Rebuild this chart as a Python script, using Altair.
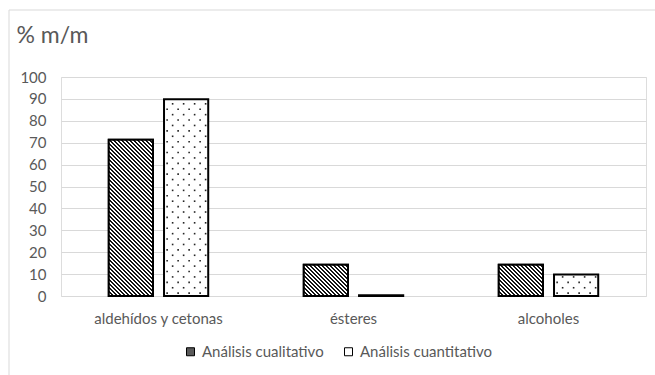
import altair as alt
import pandas as pd

# --- data -------------------------------------------------------------------
categories = ["aldehídos y cetonas", "ésteres", "alcoholes"]
series = ["Análisis cualitativo", "Análisis cuantitativo"]
cualitativo = [71.4, 14.3, 14.3]
cuantitativo = [89.8, 0.3, 9.8]
y_ticks = [0, 10, 20, 30, 40, 50, 60, 70, 80, 90, 100]

# --- layout -----------------------------------------------------------------
W, H = 585, 219
PAD = {"left": 61, "top": 77, "right": 9, "bottom": 79}
PX_PER_UNIT = H / 100.0
X_PAD_INNER, X_PAD_OUTER = 0.49, 0.245
OFF_PAD_INNER = 0.2
STEP = W / (len(categories) - X_PAD_INNER + 2 * X_PAD_OUTER)
BAND = STEP * (1 - X_PAD_INNER)
SUB_STEP = BAND / (len(series) - OFF_PAD_INNER)
BAR_W = SUB_STEP * (1 - OFF_PAD_INNER)

TEXT = "#595959"
GRID = "#d9d9d9"
FONT = "Lato"

rows = []
for c, a, b in zip(categories, cualitativo, cuantitativo):
    rows.append({"categoria": c, "serie": series[0], "valor": a})
    rows.append({"categoria": c, "serie": series[1], "valor": b})
df = pd.DataFrame(rows)

x_enc = alt.X(
    "categoria:N",
    sort=categories,
    scale=alt.Scale(domain=categories, paddingInner=X_PAD_INNER, paddingOuter=X_PAD_OUTER),
    axis=alt.Axis(title=None, labelAngle=0, labelPadding=15, ticks=False, tickSize=0,
                  domain=False, labelFontSize=15, labelColor=TEXT, labelFont=FONT),
)
xoff_enc = alt.XOffset(
    "serie:N", sort=series,
    scale=alt.Scale(domain=series, paddingInner=OFF_PAD_INNER, paddingOuter=0),
)
y_enc = alt.Y(
    "valor:Q",
    scale=alt.Scale(domain=[0, 100], nice=False),
    axis=alt.Axis(values=y_ticks, title="% m/m", titleAngle=0, titleX=-45, titleY=-42,
                  titleAlign="left", titleBaseline="middle", titleFontSize=23,
                  titleFontWeight="normal", titleColor=TEXT, titleFont=FONT,
                  labelFontSize=15, labelColor=TEXT, labelFont=FONT, labelPadding=15,
                  ticks=False, tickSize=0, domain=False, gridColor=GRID, gridWidth=1),
)


def hatch_fill(w, h, period=4.0, ink=1.3):
    """Downward-diagonal hatch built from a hard-stop linear gradient."""
    span = w + h
    k = span / (w * w + h * h)
    stops = []
    pos = 0.0
    while pos < span:
        a = pos / span
        b = min((pos + ink) / span, 1.0)
        c = min((pos + period) / span, 1.0)
        stops += [
            alt.GradientStop(offset=a, color="#151515"),
            alt.GradientStop(offset=b, color="#151515"),
            alt.GradientStop(offset=b, color="#ffffff"),
            alt.GradientStop(offset=c, color="#ffffff"),
        ]
        pos += period
    return alt.LinearGradient(gradient="linear", stops=stops,
                              x1=0, y1=1, x2=k * w, y2=1 - k * h)


# base bars (also carry the legend)
bars = alt.Chart(df).mark_bar(stroke="black", strokeWidth=2).encode(
    x=x_enc, xOffset=xoff_enc, y=y_enc,
    fill=alt.Fill(
        "serie:N", sort=series,
        scale=alt.Scale(domain=series, range=["#5a5a5a", "#ffffff"]),
        legend=alt.Legend(
            title=None, orient="none", direction="horizontal", legendX=122, legendY=267,
            symbolType="square", symbolSize=64, symbolStrokeColor="black",
            symbolStrokeWidth=1, labelFontSize=15, labelColor=TEXT, labelFont=FONT,
            columnPadding=17, labelOffset=4,
        ),
    ),
)

layers = [bars]

# hatched overlay for the qualitative series, one layer per bar height
for val in sorted(set(cualitativo)):
    sub = df[(df["serie"] == series[0]) & (df["valor"] == val)]
    layers.append(
        alt.Chart(sub).mark_bar(
            fill=hatch_fill(BAR_W, val * PX_PER_UNIT), stroke="black", strokeWidth=2
        ).encode(x=x_enc, xOffset=xoff_enc, y=y_enc)
    )
bars_layer = alt.layer(*layers)

# dotted texture for the quantitative series: staggered rows of tiny squares,
# offsets measured in pixels from the start of each category band
ROW_STEP = 2.47
bar_center = SUB_STEP + BAR_W / 2
col_offsets = {0: [-19, -8, 3, 14], 1: [-13.5, -2.5, 8.5, 19.5]}
dot_rows = []
for c, v in zip(categories, cuantitativo):
    lvl, k = 1.3, 0
    while lvl < v - 0.8:
        for dx in col_offsets[k % 2]:
            dot_rows.append({"categoria": c, "valor": lvl, "desplazamiento": bar_center + dx})
        lvl += ROW_STEP
        k += 1
dots = pd.DataFrame(dot_rows)
dots_layer = alt.Chart(dots).mark_square(size=2.6, color="#000000", opacity=0.85).encode(
    x=x_enc,
    xOffset=alt.XOffset("desplazamiento:Q",
                        scale=alt.Scale(domain=[0, BAND], nice=False, zero=False)),
    y=y_enc,
)

# thin frame around the chart area
frame_df = pd.DataFrame({"k": [0]})
frame_top = alt.Chart(frame_df).mark_rule(color=GRID, strokeWidth=1).encode(
    x=alt.value(-52), x2=alt.value(W + PAD["right"]), y=alt.value(-67))
frame_left = alt.Chart(frame_df).mark_rule(color=GRID, strokeWidth=1).encode(
    x=alt.value(-52), y=alt.value(-67), y2=alt.value(H + PAD["bottom"]))

chart = alt.layer(bars_layer, dots_layer, frame_top, frame_left).resolve_scale(
    xOffset="independent"
).properties(
    width=W, height=H,
    autosize=alt.AutoSizeParams(type="none"),
    padding=PAD,
    background="white",
).configure_view(stroke=None).configure(font=FONT)

chart.save("out.html", embed_options={"renderer": "svg", "actions": False})
